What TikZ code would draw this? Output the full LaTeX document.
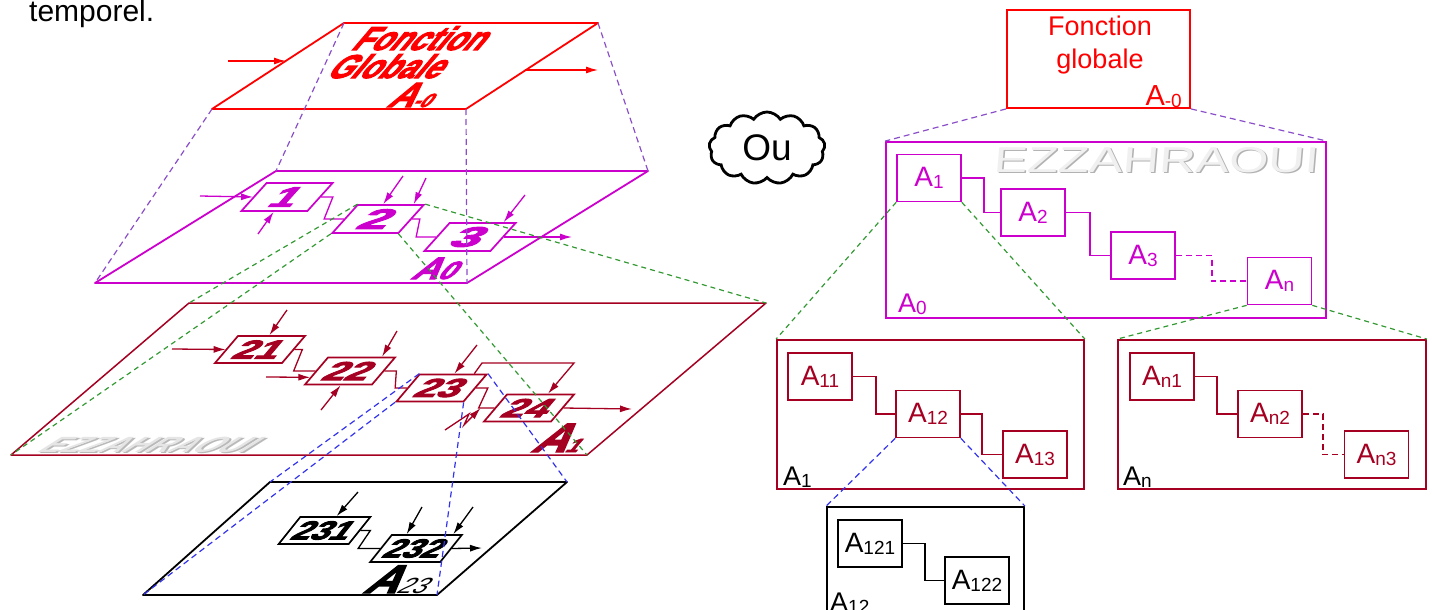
\documentclass[tikz,border=0pt]{standalone}
\usepackage{fontspec}
\setmainfont{Liberation Sans}
\newfontfamily\heavyfont[FakeBold=3.5]{Liberation Sans Bold}
\usetikzlibrary{arrows.meta,calc,shapes.symbols}
\definecolor{mag}{HTML}{CC00CC}
\definecolor{dred}{HTML}{A50021}
\definecolor{pred}{HTML}{FF0000}
\definecolor{gdash}{HTML}{339933}
\definecolor{pdash}{HTML}{8A4FC8}
\definecolor{bdash}{HTML}{3333EE}
\newcommand{\fs}[1]{\fontsize{#1}{#1}\selectfont}
\newcommand{\mysub}[1]{\raisebox{-2pt}{\fs{19}#1}}
\tikzset{
  plane/.style={line width=1.8pt, line join=round},
  conn/.style={line width=1.3pt},
  arr/.style={line width=1.3pt, -{Latex[length=12pt,width=7pt]}},
  pbox/.style={draw, line width=1.7pt, inner sep=0pt, minimum height=28pt, font=\heavyfont\fs{28}},
  mbox/.style={pbox, mag, text=mag, minimum width=66pt, xslant=0.9},
  rbox/.style={pbox, dred, text=dred, minimum width=67pt, minimum height=27pt, xslant=0.85, font=\heavyfont\fs{26}},
  kbox/.style={pbox, black, minimum width=70pt, minimum height=27pt, xslant=0.8, font=\heavyfont\fs{26}},
  plabel/.style={inner sep=0pt, anchor=base west, font=\heavyfont\fs{33}, xslant=0.85},
  gd/.style={gdash, line width=1.2pt, dash pattern=on 5pt off 4pt},
  pd/.style={pdash, line width=1.2pt, dash pattern=on 6pt off 4pt},
  bd/.style={bdash, line width=1.2pt, dash pattern=on 6pt off 4pt},
  sq/.style={draw, line width=1.7pt, minimum width=64pt, minimum height=47pt, inner sep=0pt, font=\fs{28}},
  bigbox/.style={draw, line width=1.8pt, inner sep=0pt},
  boxlab/.style={inner sep=0pt, anchor=base west, font=\fs{27}},
}
\begin{document}
\begin{tikzpicture}[x=1pt,y=-1pt]
\useasboundingbox (0,0) rectangle (1432,610);
\clip (0,0) rectangle (1432,610);

\node[anchor=base west, font=\fs{30}, inner sep=0pt] (tmp) at (29,22) {temporel.};

% ---------- planes (left) ----------
\coordinate (P0a) at (344,23);  \coordinate (P0b) at (598,23);
\coordinate (P0c) at (466,109); \coordinate (P0d) at (212,109);
\coordinate (P1a) at (276,171); \coordinate (P1b) at (648,171);
\coordinate (P1c) at (467,283); \coordinate (P1d) at (95,283);
\coordinate (P2a) at (189,303); \coordinate (P2b) at (766,303);
\coordinate (P2c) at (587,455); \coordinate (P2d) at (11,455);
\coordinate (P3a) at (270,482); \coordinate (P3b) at (567,482);
\coordinate (P3c) at (437,595); \coordinate (P3d) at (143,595);

\draw[plane, pred] (P0a) -- (P0b) -- (P0c) -- (P0d) -- cycle;
\draw[plane, mag] (P1a) -- (P1b) -- (P1c) -- (P1d) -- cycle;
\draw[plane, dred, line width=1.5pt] (P2a) -- (P2b) -- (P2c) -- (P2d) -- cycle;
\draw[plane, black] (P3a) -- (P3b) -- (P3c) -- (P3d) -- cycle;

% top plane
\node[plabel, text=pred, xscale=0.93] (fg1) at (350,50) {Fonction};
\node[plabel, text=pred, xscale=0.93] (fg2) at (325,78) {Globale};
\node[plabel, text=pred, font=\heavyfont\fs{35}] (fg3) at (386,107) {A{\fs{19}-0}};
\coordinate (i0) at (228,61); \coordinate (i0e) at (286,61);
\coordinate (o0s) at (525,70); \coordinate (o0) at (598,70);
\draw[arr, pred] (i0) -- (i0e);
\draw[arr, pred] (o0s) -- (o0);

% magenta plane
\node[mbox] (m1) at (287,197) {\scalebox{1.6}[1]{1}};
\node[mbox] (m2) at (378,219) {\scalebox{1.9}[1]{2}};
\node[mbox] (m3) at (470,237) {\scalebox{1.9}[1]{3}};
\draw[conn, mag] (m1.east) -- ++(12,0) -- ($(m2.west)+(-20,0)$) -- (m2.west);
\draw[conn, mag] (m2.east) -- ++(8,0) -- ($(m3.west)+(-20,0)$) -- (m3.west);
\coordinate (mi1) at (200,196); \draw[arr, mag] (mi1) -- (m1.west);
\coordinate (mi2) at (258,234); \draw[arr, mag] (mi2) -- (m1.south);
\coordinate (mi3) at (403,176); \draw[arr, mag] (mi3) -- ($(m2.north west)!0.38!(m2.north east)$);
\coordinate (mi4) at (426,178); \draw[arr, mag] (mi4) -- ($(m2.north west)!0.83!(m2.north east)$);
\coordinate (mi5) at (525,195); \draw[arr, mag] (mi5) -- ($(m3.north west)!0.8!(m3.north east)$);
\coordinate (mo3) at (572,237); \draw[arr, mag] (m3.east) -- (mo3);
\node[plabel, text=mag, font=\heavyfont\fs{31}, xscale=1.15] (la0) at (410,279) {A{\fs{25}0}};

% dark red plane
\node[inner sep=0pt, font=\bfseries\fs{22}, text=gray!55, xscale=1.45, xslant=1.1] (wm1s) at (154,446) {EZZAHRAOUI};
\node[inner sep=0pt, font=\bfseries\fs{22}, text=gray!20, xscale=1.45, xslant=1.1] (wm1) at (152,444.5) {EZZAHRAOUI};
\node[rbox] (r21) at (260,349.5) {\scalebox{1.55}[1]{21}};
\node[rbox] (r22) at (350,371) {\scalebox{1.55}[1]{22}};
\node[rbox] (r23) at (441.5,388) {\scalebox{1.55}[1]{23}};
\node[rbox] (r24) at (529,408) {\scalebox{1.55}[1]{24}};
\draw[conn, dred] (r21.east) -- ++(8,0) -- ($(r22.west)+(-22,0)$) -- (r22.west);
\draw[conn, dred] (r22.east) -- ++(12,0) -- ($(r23.west)+(-12,0)$) -- (r23.west);
\draw[conn, dred] (r23.east) -- ++(12,0) -- ($(r24.west)+(-16,0)$) -- (r24.west);
\coordinate (ri1) at (172,349); \draw[arr, dred] (ri1) -- (r21.west);
\coordinate (ri2) at (287,310); \draw[arr, dred] (ri2) -- ($(r21.north west)!0.46!(r21.north east)$);
\coordinate (ri3) at (397,331); \draw[arr, dred] (ri3) -- ($(r22.north west)!0.79!(r22.north east)$);
\coordinate (ri4) at (266,377); \draw[arr, dred] (ri4) -- ($(r22.south west)!0.28!(r22.north west)$);
\coordinate (ri5) at (321,410); \draw[arr, dred] (ri5) -- ($(r22.south west)!0.54!(r22.south east)$);
\coordinate (ri6) at (477,345); \draw[arr, dred] (ri6) -- ($(r23.north west)!0.51!(r23.north east)$);
\draw[arr, dred] ($(r23.north west)!0.8!(r23.north east)$) -- (482,363) -- (574,363) -- ($(r24.north west)!0.6!(r24.north east)$);
\coordinate (ri7) at (445,430); \draw[arr, dred] (ri7) -- (469,414) -- (464,425) -- ($(r24.west)+(-14,0)$);
\coordinate (ro4) at (632,409); \draw[arr, dred] (r24.east) -- (ro4);
\node[plabel, text=dred, font=\heavyfont\fs{41}, xscale=1.15] (la1) at (530,452) {A{\fs{19}1}};

% black plane
\node[kbox] (b231) at (324.5,530.5) {\scalebox{1.3}[1]{231}};
\node[kbox] (b232) at (416,548.5) {\scalebox{1.3}[1]{232}};
\draw[conn, black] (b231.east) -- ++(10,0) -- ($(b232.west)+(-22,0)$) -- (b232.west);
\coordinate (bi1) at (358,492); \draw[arr] (bi1) -- ($(b231.north west)!0.51!(b231.north east)$);
\coordinate (bi2) at (422,507); \draw[arr] (bi2) -- ($(b232.north west)!0.21!(b232.north east)$);
\coordinate (bi3) at (473,507); \draw[arr] (bi3) -- ($(b232.north west)!0.86!(b232.north east)$);
\coordinate (bo2) at (482,548); \draw[arr] (b232.east) -- (bo2);
\node[plabel, font=\heavyfont\fs{40}, xscale=1.15] (la23) at (362,593) {A{\normalfont\fs{22}23}};

% dashed projections (left)
\draw[pd] (P0a) -- (P1a); \draw[pd] (P0b) -- (P1b);
\draw[pd] (P0c) -- (P1c); \draw[pd] (P0d) -- (P1d);
\draw[gd] (m2.north west) -- (P2a); \draw[gd] (m2.south west) -- (P2d);
\draw[gd] (m2.north east) -- (P2b); \draw[gd] (m2.south east) -- (P2c);
\draw[bd] (r23.north west) -- (P3a); \draw[bd] (r23.south west) -- (P3d);
\draw[bd] (r23.south east) -- (P3c); \draw[bd] (r23.north east) -- (P3b);

% ---------- cloud ----------
\node[cloud, draw, line width=2.8pt, cloud puffs=13, cloud puff arc=115, aspect=1.6,
      minimum width=116pt, minimum height=72pt, inner sep=0pt, font=\fs{37}] (ou) at (767,148) {Ou};

% ---------- right side ----------
\node[bigbox, pred, minimum width=183pt, minimum height=98pt] (fg) at (1098.5,59) {};
\node[text=pred, font=\fontsize{27}{33}\selectfont, align=center, inner sep=0pt] (fgt) at (1100,45) {Fonction\\globale};
\node[inner sep=0pt, anchor=base east, text=pred, font=\fs{29}] (fgl) at (1182,105) {A\mysub{-0}};

\node[bigbox, mag, minimum width=440pt, minimum height=176pt] (mb) at (1106,230) {};
\node[inner sep=0pt, font=\fs{36}, text=gray!60, xscale=1.4, xslant=0.06] (wm2s) at (1158,161.5) {EZZAHRAOUI};
\node[inner sep=0pt, font=\fs{36}, text=gray!12, xscale=1.4, xslant=0.06] (wm2) at (1156.5,160) {EZZAHRAOUI};
\node[sq, mag] (a1) at (929,178) {A\mysub{1}};
\node[sq, mag] (a2) at (1033,212.5) {A\mysub{2}};
\node[sq, mag] (a3) at (1143,255.5) {A\mysub{3}};
\node[sq, mag] (an) at (1279.5,281) {A\mysub{n}};
\draw[conn, mag] (a1.east) -- ++(22,0) |- (a2.west);
\draw[conn, mag] (a2.east) -- ++(24,0) |- (a3.west);
\draw[conn, mag, dash pattern=on 6pt off 4pt] (a3.east) -- ++(36,0) |- (an.west);
\node[boxlab, text=mag] (lA0) at (898,312) {A\mysub{0}};

\node[bigbox, dred, minimum width=307pt, minimum height=149pt] (b1) at (930.5,414.5) {};
\node[sq, dred] (a11) at (820,376.5) {A\mysub{11}};
\node[sq, dred] (a12) at (928,414) {A\mysub{12}};
\node[sq, dred] (a13) at (1035,454.5) {A\mysub{13}};
\draw[conn, dred] (a11.east) -- ++(23,0) |- (a12.west);
\draw[conn, dred] (a12.east) -- ++(21,0) |- (a13.west);
\node[boxlab] (lA1) at (783,485) {A\mysub{1}};

\node[bigbox, dred, minimum width=308pt, minimum height=149pt] (bn) at (1272,414.5) {};
\node[sq, dred] (an1) at (1162,376.5) {A\mysub{n1}};
\node[sq, dred] (an2) at (1270,414) {A\mysub{n2}};
\node[sq, dred] (an3) at (1376.5,454.5) {A\mysub{n3}};
\draw[conn, dred] (an1.east) -- ++(22,0) |- (an2.west);
\draw[conn, dred, dash pattern=on 6pt off 4pt] (an2.east) -- ++(20,0) |- (an3.west);
\node[boxlab] (lAn) at (1123,485) {A\mysub{n}};

\node[bigbox, black, minimum width=197pt, minimum height=130pt] (b12) at (925.5,572) {};
\node[sq] (a121) at (870,543.5) {A\mysub{121}};
\node[sq] (a122) at (977,580.5) {A\mysub{122}};
\draw[conn] (a121.east) -- ++(22,0) |- (a122.west);
\node[boxlab] (lA12) at (830,611) {A\mysub{12}};

% dashed projections (right)
\draw[pd] (fg.south west) -- (mb.north west);
\draw[pd] (fg.south east) -- (mb.north east);
\draw[gd] (a1.south west) -- (b1.north west);
\draw[gd] (a1.south east) -- (b1.north east);
\draw[gd] (an.south west) -- (bn.north west);
\draw[gd] (an.south east) -- (bn.north east);
\draw[bd] (a12.south west) -- (b12.north west);
\draw[bd] (a12.south east) -- (b12.north east);
\end{tikzpicture}
\end{document}
